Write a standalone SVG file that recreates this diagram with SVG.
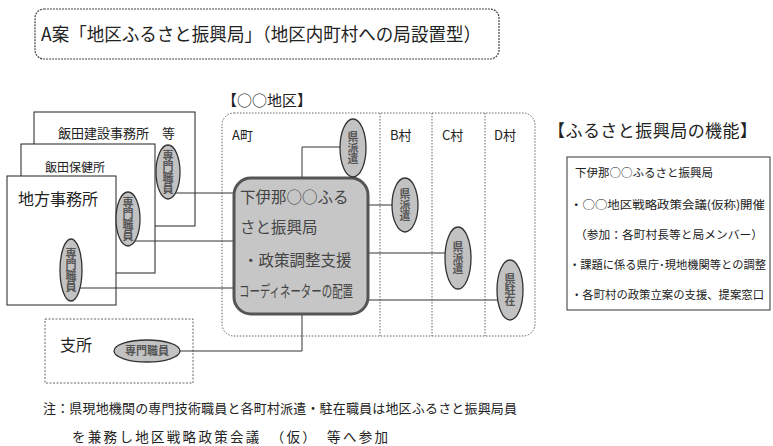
<svg xmlns="http://www.w3.org/2000/svg" width="773" height="446" viewBox="0 0 773 446">
<style>
text{font-family:"Noto Sans CJK JP","Noto Sans CJK SC",sans-serif;fill:#222}
.box{fill:#fff;stroke:#222;stroke-width:1}
.dot{fill:none;stroke:#666;stroke-width:1;stroke-dasharray:1.5 1.5}
.ell{fill:#c2c2c2;stroke:#333;stroke-width:1.3}
.vt{writing-mode:vertical-rl;text-anchor:middle;font-size:11px;font-weight:bold;fill:#555}
.ln{fill:none;stroke:#333;stroke-width:1}
.ct{font-size:15.5px;fill:#444}
.rt{font-size:11.5px}
</style>
<g id="title">
<rect x="35" y="9" width="464" height="50" rx="9" fill="#fff" stroke="#444" stroke-width="1.2" stroke-dasharray="2 1"/>
<text x="41" y="41" font-size="18.5" textLength="440" lengthAdjust="spacingAndGlyphs">A案「地区ふるさと振興局」（地区内町村への局設置型）</text>
</g>
<g id="office-kensetsu">
<rect class="box" x="34" y="112" width="161" height="114"/>
<text x="58" y="138" font-size="13">飯田建設事務所　等</text>
</g>
<g id="office-hoken">
<rect class="box" x="21" y="144" width="134" height="129"/>
<text x="45" y="172" font-size="12">飯田保健所</text>
</g>
<g id="office-chiho">
<rect class="box" x="7" y="176" width="109" height="129"/>
<text x="18" y="205" font-size="16">地方事務所</text>
</g>
<g id="branch">
<rect x="45" y="319" width="148" height="64" fill="#fff" stroke="#666" stroke-width="1" stroke-dasharray="2 1.5"/>
<text x="60" y="351" font-size="16">支所</text>
</g>
<g id="district">
<text x="222" y="106" font-size="15">【○○地区】</text>
<rect class="dot" x="222" y="113" width="313" height="223" rx="12"/>
<line class="dot" x1="380" y1="113" x2="380" y2="336"/>
<line class="dot" x1="432" y1="113" x2="432" y2="336"/>
<line class="dot" x1="485" y1="113" x2="485" y2="336"/>
<text x="232" y="140" font-size="13">A町</text>
<text x="390" y="140" font-size="13">B村</text>
<text x="442" y="140" font-size="13">C村</text>
<text x="494" y="140" font-size="13">D村</text>
</g>
<g id="connectors">
<polyline class="ln" points="168,193 233,193"/>
<polyline class="ln" points="128,241 233,241"/>
<polyline class="ln" points="70,288 233,288"/>
<polyline class="ln" points="353,147 302,147 302,178"/>
<polyline class="ln" points="368,205 405,205"/>
<polyline class="ln" points="368,253 458,253"/>
<polyline class="ln" points="368,300 510,300"/>
<polyline class="ln" points="302,312 302,351 147,351"/>
</g>
<g id="bureau">
<rect x="234" y="178" width="134" height="136" rx="17" fill="#c6c6c6" stroke="#555" stroke-width="3"/>
<text class="ct" x="240" y="203">下伊那○○ふる</text>
<text class="ct" x="240" y="233">さと振興局</text>
<text class="ct" x="243" y="266">・政策調整支援</text>
<text class="ct" x="239" y="297" textLength="114" lengthAdjust="spacingAndGlyphs">コーディネーターの配置</text>
</g>
<g id="staff-kensetsu">
<ellipse class="ell" cx="168" cy="172" rx="12" ry="27"/>
<text class="vt" x="168" y="172">専門職員</text>
</g>
<g id="staff-hoken">
<ellipse class="ell" cx="128" cy="219" rx="12" ry="27"/>
<text class="vt" x="128" y="219">専門職員</text>
</g>
<g id="staff-chiho">
<ellipse class="ell" cx="71" cy="270" rx="11" ry="31"/>
<text class="vt" x="71" y="270">専門職員</text>
</g>
<g id="staff-branch">
<ellipse class="ell" cx="147" cy="351" rx="33" ry="11"/>
<text x="147" y="355" font-size="11" font-weight="bold" text-anchor="middle" style="fill:#555">専門職員</text>
</g>
<g id="dispatch-a">
<ellipse class="ell" cx="353" cy="148" rx="13" ry="29"/>
<text class="vt" x="353" y="148">県派遣</text>
</g>
<g id="dispatch-b">
<ellipse class="ell" cx="405" cy="205" rx="13" ry="27"/>
<text class="vt" x="405" y="205">県派遣</text>
</g>
<g id="dispatch-c">
<ellipse class="ell" cx="458" cy="258" rx="13" ry="31"/>
<text class="vt" x="458" y="258">県派遣</text>
</g>
<g id="resident-d">
<ellipse class="ell" cx="510" cy="290" rx="13" ry="30"/>
<text class="vt" x="510" y="290">県駐在</text>
</g>
<g id="functions">
<text x="548" y="137" font-size="17" textLength="209" lengthAdjust="spacing">【ふるさと振興局の機能】</text>
<rect x="567" y="157" width="203" height="153" fill="#fff" stroke="#333" stroke-width="1"/>
<text class="rt" x="575" y="177">下伊那○○ふるさと振興局</text>
<text class="rt" x="570" y="209" textLength="195" lengthAdjust="spacingAndGlyphs">・○○地区戦略政策会議(仮称)開催</text>
<text class="rt" x="575" y="239" textLength="188" lengthAdjust="spacingAndGlyphs">（参加：各町村長等と局メンバー）</text>
<text class="rt" x="569" y="269" textLength="197" lengthAdjust="spacingAndGlyphs">・課題に係る県庁･現地機関等との調整</text>
<text class="rt" x="571" y="299" textLength="193" lengthAdjust="spacingAndGlyphs">・各町村の政策立案の支援、提案窓口</text>
</g>
<g id="notes">
<text x="43" y="413" font-size="13" textLength="474" lengthAdjust="spacing">注：県現地機関の専門技術職員と各町村派遣・駐在職員は地区ふるさと振興局員</text>
<text x="72" y="442" font-size="13.5" textLength="316" lengthAdjust="spacing">を兼務し地区戦略政策会議　（仮）　等へ参加</text>
</g>
</svg>
